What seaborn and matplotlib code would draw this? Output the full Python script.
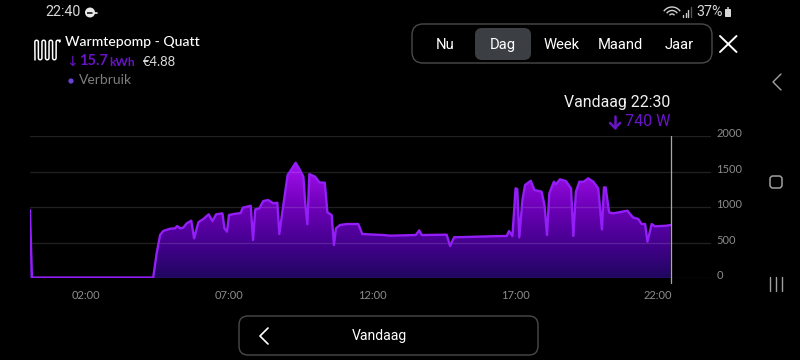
import numpy as np
import pandas as pd
import matplotlib
matplotlib.use("Agg")
import matplotlib.pyplot as plt
from matplotlib.colors import LinearSegmentedColormap
from matplotlib.patches import FancyBboxPatch, Circle, Arc, Rectangle
from matplotlib.transforms import ScaledTranslation
import seaborn as sns

hours = [0.04,0.11,4.35,4.47,4.59,4.70,4.94,5.11,5.19,5.29,5.40,5.52,5.68,5.78,5.93,6.10,6.29,6.42,6.55,6.77,
         6.84,6.93,7.00,7.15,7.41,7.48,7.76,7.84,7.92,8.06,8.20,8.37,8.55,8.69,8.76,8.90,9.05,9.19,9.33,9.48,
         9.60,9.67,9.74,9.81,10.01,10.16,10.35,10.44,10.59,10.67,10.74,10.88,11.12,11.52,11.66,12.40,12.63,13.53,13.65,13.74,
         14.61,14.73,14.87,16.48,16.71,16.79,16.91,17.02,17.08,17.15,17.26,17.35,17.55,17.68,17.93,18.03,18.12,18.20,18.36,18.43,
         18.57,18.78,18.96,19.04,19.13,19.25,19.40,19.56,19.74,19.91,20.04,20.11,20.17,20.29,20.44,20.93,21.12,21.31,21.43,21.55,
         21.63,21.78,21.89,22.30,22.44]
watts = [960,10,10,350,608,665,697,702,735,702,711,772,810,562,787,833,899,805,899,913,
         702,655,889,903,917,992,1020,538,969,983,1086,1100,1054,1062,622,1030,1451,1536,1624,1522,
         1428,1030,759,1465,1428,1349,1343,927,889,468,702,749,763,763,622,608,599,608,674,608,
         613,454,576,594,594,665,594,1264,1255,576,1100,1311,1371,1241,1217,1030,608,1194,1357,1321,
         1391,1367,1264,594,1217,1357,1357,1405,1357,1264,688,1278,1278,927,913,950,857,833,763,763,
         514,763,730,739,749]
y_ticks = [0, 500, 1000, 1500, 2000]
x_ticks = [2, 7, 12, 17, 22]
x_labels = ["02:00", "07:00", "12:00", "17:00", "22:00"]
cursor_hour = 22.45
tabs = ["Nu", "Dag", "Week", "Maand", "Jaar"]

sns.set_theme(style="dark", rc={"figure.facecolor": "black", "axes.facecolor": "black",
                                "savefig.facecolor": "black"})
plt.rcParams["font.family"] = ["Lato", "DejaVu Sans"]
W, H = 800, 360
fig = plt.figure(figsize=(8, 3.6), dpi=100)
L, R, T, B = 30, 711, 136, 278.3
ax = fig.add_axes([L/W, 1-B/H, (R-L)/W, (B-T)/H])
ax.set_xlim((L-28.8)/28.6, (R-28.8)/28.6)
ax.set_ylim(0, 2000)
for s in ax.spines.values():
    s.set_visible(False)

df = pd.DataFrame({"hour": hours, "power": watts})
grad = LinearSegmentedColormap.from_list(
    "g", [(0, "#20075f"), (0.3, "#45008f"), (0.6, "#6d00b8"), (1, "#aa12f2")])
poly = ax.fill_between(df["hour"], df["power"], 0, color="none", lw=0)
img = ax.imshow(np.linspace(1, 0, 256).reshape(-1, 1), cmap=grad, aspect="auto",
                extent=[ax.get_xlim()[0], ax.get_xlim()[1], 0, 1650], zorder=1)
ax.set_xlim((L-28.8)/28.6, (R-28.8)/28.6)
ax.set_ylim(0, 2000)
path = poly.get_paths()[0]
img.set_clip_path(path, transform=ax.transData)
for v in y_ticks:
    ax.axhline(v, color="white", alpha=0.13, lw=1, zorder=2)
sns.lineplot(data=df, x="hour", y="power", ax=ax, color="#931ef7", lw=1.7, zorder=3,
             errorbar=None, estimator=None, sort=False, solid_joinstyle="round")
ax.axvline(cursor_hour, ymin=-4.7/(B-T), ymax=1, color="#a8a8a8", lw=0.9, zorder=4, clip_on=False)

ax.set_xlabel(""); ax.set_ylabel("")
ax.set_xticks(x_ticks, x_labels)
ax.yaxis.tick_right()
ax.set_yticks(y_ticks, [str(v) for v in y_ticks])
ax.tick_params(axis="x", length=0, pad=8.5, labelsize=8.0, labelcolor="#8c8c8c")
ax.tick_params(axis="y", length=0, pad=4, labelsize=8.0, labelcolor="#8c8c8c")
shift = ScaledTranslation(0, 3.5/100, fig.dpi_scale_trans)
for t in ax.get_yticklabels():
    t.set_transform(t.get_transform() + shift)
    t.set_ha("left")

# interface elements, drawn on a pixel overlay
ui = fig.add_axes([0, 0, 1, 1], facecolor="none")
ui.set_xlim(0, W); ui.set_ylim(H, 0); ui.axis("off")

def txt(x, y, s, size, color="white", ha="left", weight="normal", family=None):
    ui.text(x, y, s, fontsize=size, color=color, ha=ha, va="center", weight=weight,
            family=family or ["Lato", "DejaVu Sans"])

def box(x0, y0, x1, y1, r, fc="none", ec="#555555", lw=1):
    ui.add_patch(FancyBboxPatch((x0+r, y0+r), x1-x0-2*r, y1-y0-2*r,
                                boxstyle=f"round,pad={r},rounding_size={r}", fc=fc, ec=ec, lw=lw))

rb = ["Roboto", "DejaVu Sans"]
txt(45, 12.5, "22:40", 10.3, "#d8d8d8", family=rb)
ui.add_patch(Circle((90, 12.5), 5, fc="#e8e8e8", ec="none"))
ui.add_patch(Rectangle((87, 11.5), 6, 2, fc="#333333", ec="none"))
ui.plot([93, 97], [12.5, 12.5], color="#e8e8e8", lw=1.2)
for r in [3, 6.5, 10]:
    ui.add_patch(Arc((672, 17), 2*r, 2*r, theta1=215, theta2=325, color="#d0d0d0", lw=1))
for i, h in enumerate([2, 4, 7, 10]):
    ui.plot([683+2.5*i]*2, [17, 17-h], color="#c8c8c8" if i < 3 else "#555555", lw=1)
txt(696, 12.5, "37%", 10.3, "#d8d8d8", family=rb)
box(725, 9, 731, 17, 0.8, fc="#d8d8d8", ec="none")
ui.add_patch(Rectangle((727, 7), 2, 2, fc="#999999", ec="none"))

# heater icon: rounded loops
a = np.linspace(0, np.pi, 12)
ix, iy = [35], [60]
for i in range(7):
    cx = 36.6 + i*3.55
    sgn = -1 if i % 2 == 0 else 1
    ends = 42 if i % 2 == 0 else 58
    ix += list(cx - 1.75*np.cos(a))
    iy += list(ends + sgn*1.75*np.sin(a))
ix.append(60); iy.append(40)
ui.plot(ix, iy, color="white", lw=1.1)
txt(65, 42, "Warmtepomp - Quatt", 10.1, weight="medium")
pu = "#6a14c8"
txt(66, 61.5, "↓", 10, pu, family=["DejaVu Sans"])
txt(79, 61, "15.7", 10.5, pu, weight="bold")
txt(109.5, 62, "kWh", 8.6, pu, weight="bold")
txt(143, 61.5, "€4.88", 9.4, "#dddddd")
ui.add_patch(Circle((71, 81), 2.6, fc="#6a40d8", ec="none"))
txt(79, 80, "Verbruik", 10, "#7d7d7d")

box(412, 24, 712, 63, 11, ec="#4a4a4a")
box(475, 28, 531, 60, 7, fc="#3b3e43", ec="none")
for s, x in zip(tabs, [445, 503, 562, 620, 679]):
    txt(x, 45, s, 10.6, "white", ha="center", family=rb)
ui.plot([720, 736.5], [36, 52], color="white", lw=1.4)
ui.plot([720, 736.5], [52, 36], color="white", lw=1.4)
ui.plot([781, 773, 781], [74, 82, 90], color="#a0a0a0", lw=1)
box(770, 176, 782, 188, 3, ec="#a0a0a0", lw=1.1)
for x in [770, 776, 782]:
    ui.plot([x, x], [277, 291], color="#a0a0a0", lw=1)

txt(670.5, 103, "Vandaag 22:30", 11.4, "#f0f0f0", ha="right", family=rb)
txt(670.5, 122, "740 W", 11.6, pu, ha="right", family=rb)
ui.plot([615, 615], [116, 128], color=pu, lw=1.8)
ui.plot([610, 615, 620], [123, 128, 123], color=pu, lw=1.8)

box(239, 316, 538, 355, 9, ec="#4a4a4a")
ui.plot([268, 260, 268], [328, 336, 344], color="white", lw=1.2)
txt(379, 336, "Vandaag", 10.1, "white", ha="center", family=rb)

fig.savefig("out.png", dpi=100)
